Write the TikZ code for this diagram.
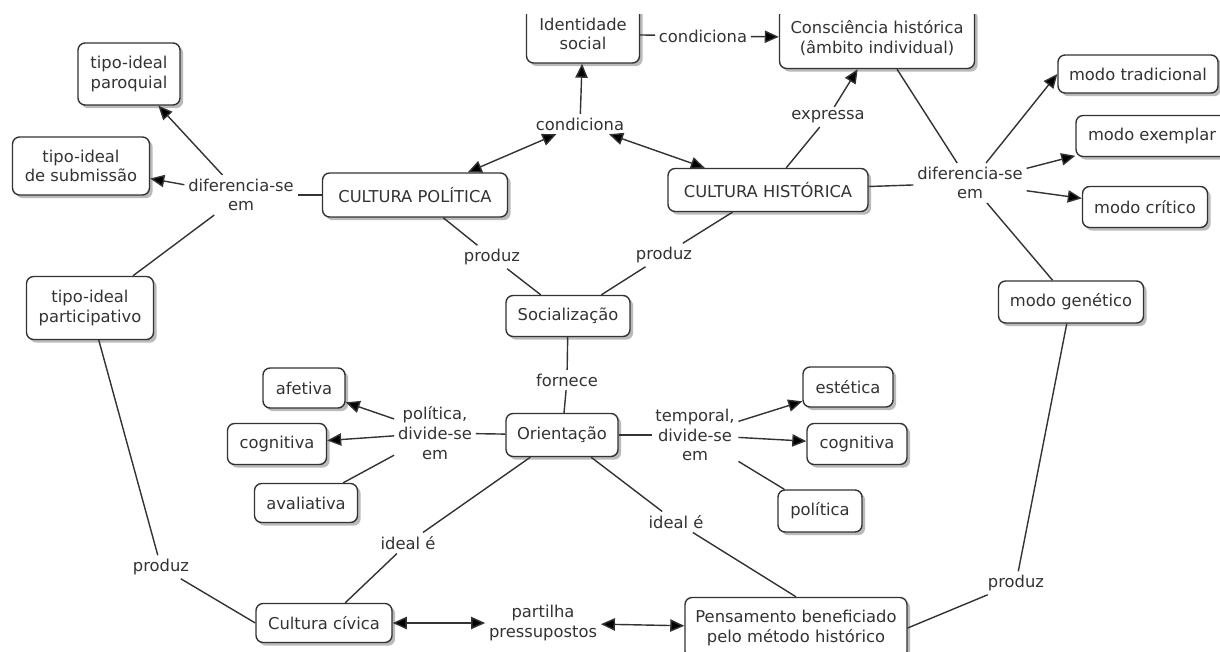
\documentclass[tikz,border=0pt]{standalone}
\usepackage{fontspec}
\setmainfont{DejaVu Sans}
\usetikzlibrary{arrows.meta,shadows}

\tikzset{
  concept/.style={draw=black!80, line width=0.8pt, rounded corners=4pt, fill=white,
    text=black!80, align=center, inner sep=1pt,
    drop shadow={shadow xshift=1.8pt, shadow yshift=-1.8pt, fill=black!45, opacity=0.6}},
  phrase/.style={text=black!80, align=center, inner sep=2pt},
  link/.style={draw=black!80, line width=0.8pt}
}

\begin{document}
\begin{tikzpicture}[x=0.02cm, y=-0.02cm, font=\fontsize{9.3}{11.2}\selectfont,
  >={Triangle[length=8pt,width=7pt]}]

  \useasboundingbox (0,0) rectangle (1220,652);
  \begin{scope}
  \clip (0,15) rectangle (1220,652);

  % concepts
  \node[concept, minimum width=2.04cm, minimum height=1.24cm] (par) at (129,74) {tipo-ideal\\paroquial};
  \node[concept, minimum width=2.74cm, minimum height=1.16cm] (sub) at (81,166) {tipo-ideal\\de submissão};
  \node[concept, minimum width=3.7cm, minimum height=0.88cm] (cp) at (415,195) {CULTURA POLÍTICA};
  \node[concept, minimum width=2.54cm, minimum height=1.26cm] (partic) at (90,308) {tipo-ideal\\participativo};
  \node[concept, minimum width=2.26cm, minimum height=1.16cm] (ids) at (583,34) {Identidade\\social};
  \node[concept, minimum width=3.9cm, minimum height=1.22cm] (cons) at (877,38) {Consciência histórica\\(âmbito individual)};
  \node[concept, minimum width=4.0cm, minimum height=0.86cm] (ch) at (768,190) {CULTURA HISTÓRICA};
  \node[concept, minimum width=3.2cm, minimum height=0.76cm] (trad) at (1138,74) {modo tradicional};
  \node[concept, minimum width=3.04cm, minimum height=0.82cm] (exe) at (1152,136) {modo exemplar};
  \node[concept, minimum width=2.5cm, minimum height=0.82cm] (crit) at (1145,207) {modo crítico};
  \node[concept, minimum width=2.9cm, minimum height=0.84cm] (gen) at (1071,302) {modo genético};
  \node[concept, minimum width=2.48cm, minimum height=0.82cm] (soc) at (568,316) {Socialização};
  \node[concept, minimum width=2.24cm, minimum height=0.86cm] (ori) at (562,435) {Orientação};
  \node[concept, minimum width=1.64cm, minimum height=0.8cm] (afe) at (304,388) {afetiva};
  \node[concept, minimum width=1.98cm, minimum height=0.82cm] (cogL) at (277,444) {cognitiva};
  \node[concept, minimum width=2.06cm, minimum height=0.78cm] (ava) at (306,503) {avaliativa};
  \node[concept, minimum width=2.72cm, minimum height=0.78cm] (civ) at (324,623) {Cultura cívica};
  \node[concept, minimum width=1.8cm, minimum height=0.8cm] (est) at (848,387) {estética};
  \node[concept, minimum width=2.0cm, minimum height=0.82cm] (cogR) at (857,444) {cognitiva};
  \node[concept, minimum width=1.68cm, minimum height=0.84cm] (polR) at (820,511) {política};
  \node[concept, minimum width=4.44cm, minimum height=1.22cm] (pens) at (796,628) {Pensamento beneficiado\\pelo método histórico};

  % linking phrases
  \node[phrase] (difL) at (241,195) {diferencia-se\\em};
  \node[phrase] (condM) at (580,124) {condiciona};
  \node[phrase] (condT) at (703,36) {condiciona};
  \node[phrase] (expr) at (828,117) {expressa};
  \node[phrase] (difR) at (970,183) {diferencia-se\\em};
  \node[phrase] (prodL) at (492,257) {produz};
  \node[phrase] (prodR) at (664,255) {produz};
  \node[phrase] (forn) at (567,380) {fornece};
  \node[phrase] (polL) at (435,433) {política,\\divide-se\\em};
  \node[phrase] (temp) at (695,435) {temporal,\\divide-se\\em};
  \node[phrase] (idealL) at (408,543) {ideal é};
  \node[phrase] (idealR) at (676,522) {ideal é};
  \node[phrase] (prodFL) at (161,567) {produz};
  \node[phrase] (prodBR) at (1016,583) {produz};
  \node[phrase] (partilha) at (543,623) {partilha\\pressupostos};

  \path[link]
    (cp) edge (difL)
    (difL) edge[->] (par)
    (difL) edge[->] (sub)
    (difL) edge (partic)
    (cp) edge[<->] (condM)
    (condM) edge[->] (ids)
    (condM) edge[<->] (ch)
    (ids) edge (condT)
    (condT) edge[->] (cons)
    (ch) edge (expr)
    (expr) edge[->] (cons)
    (ch) edge (difR)
    (cons) edge (difR)
    (difR) edge[->] (trad.west)
    (difR) edge[->] (exe)
    (difR) edge[->] (crit)
    (difR) edge (gen)
    (gen) edge (prodBR)
    (prodBR) edge (pens.east)
    (cp) edge (prodL)
    (prodL) edge (soc)
    (ch) edge (prodR)
    (prodR) edge (soc)
    (soc) edge (forn)
    (forn) edge (ori)
    (ori) edge (polL)
    (polL) edge[->] (afe)
    (polL) edge[->] (cogL)
    (polL) edge (ava)
    (ori) edge (temp)
    (temp) edge[->] (est)
    (temp) edge[->] (cogR)
    (temp) edge (polR)
    (ori) edge (idealL)
    (idealL) edge (civ)
    (ori) edge (idealR)
    (idealR) edge (pens.north)
    (partic) edge (prodFL)
    (prodFL) edge (civ.west)
    (civ) edge[<->] (partilha)
    (partilha) edge[<->] (pens);

  \end{scope}
\end{tikzpicture}
\end{document}
